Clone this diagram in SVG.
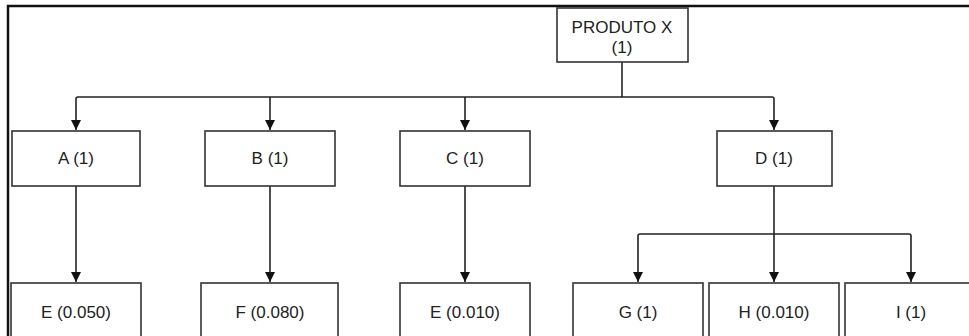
<svg xmlns="http://www.w3.org/2000/svg" width="969" height="336" viewBox="0 0 969 336">
<defs>
<style>
.box{fill:#fff;stroke:#333;stroke-width:1.6}
.t{font-family:"Liberation Sans",Arial,sans-serif;font-size:17px;fill:#222;text-anchor:middle}
.c{fill:none;stroke:#222;stroke-width:1.6}
.frame{fill:none;stroke:#111;stroke-width:2.5}
</style>
<marker id="ah" markerWidth="10" markerHeight="10" refX="10" refY="5" orient="auto" markerUnits="userSpaceOnUse" viewBox="0 0 10 10">
<path d="M0,0 L10,5 L0,10 Z" fill="#111"/>
</marker>
</defs>
<rect width="969" height="336" fill="#fff"/>
<path class="frame" d="M8,340 L8,6 L972,6"/>
<g id="connectors">
<path class="c" d="M622,62 L622,97"/>
<path class="c" d="M622,97 L78,97 Q76,97 76,99 L76,130" marker-end="url(#ah)"/>
<path class="c" d="M270,97 L270,130" marker-end="url(#ah)"/>
<path class="c" d="M465,97 L465,130" marker-end="url(#ah)"/>
<path class="c" d="M622,97 L772,97 Q774,97 774,99 L774,130" marker-end="url(#ah)"/>
<path class="c" d="M76,186 L76,282" marker-end="url(#ah)"/>
<path class="c" d="M270,186 L270,282" marker-end="url(#ah)"/>
<path class="c" d="M465,186 L465,282" marker-end="url(#ah)"/>
<path class="c" d="M774,186 L774,282" marker-end="url(#ah)"/>
<path class="c" d="M774,234 L640,234 Q638,234 638,236 L638,282" marker-end="url(#ah)"/>
<path class="c" d="M774,234 L909,234 Q911,234 911,236 L911,282" marker-end="url(#ah)"/>
</g>
<g id="produto">
<rect class="box" x="557" y="8" width="131" height="54"/>
<text class="t" x="622" y="33">PRODUTO X</text>
<text class="t" x="622" y="53">(1)</text>
</g>
<g id="A"><rect class="box" x="12" y="131" width="128" height="55"/><text class="t" x="76" y="164">A (1)</text></g>
<g id="B"><rect class="box" x="205" y="131" width="130" height="55"/><text class="t" x="270" y="164">B (1)</text></g>
<g id="C"><rect class="box" x="400" y="131" width="130" height="55"/><text class="t" x="465" y="164">C (1)</text></g>
<g id="D"><rect class="box" x="717" y="131" width="115" height="55"/><text class="t" x="774" y="164">D (1)</text></g>
<g id="E1"><rect class="box" x="11" y="283" width="130" height="65"/><text class="t" x="76" y="318">E (0.050)</text></g>
<g id="F"><rect class="box" x="201" y="283" width="137" height="65"/><text class="t" x="270" y="318">F (0.080)</text></g>
<g id="E2"><rect class="box" x="400" y="283" width="130" height="65"/><text class="t" x="465" y="318">E (0.010)</text></g>
<g id="G"><rect class="box" x="573" y="283" width="130" height="65"/><text class="t" x="638" y="318">G (1)</text></g>
<g id="H"><rect class="box" x="709" y="283" width="130" height="65"/><text class="t" x="774" y="318">H (0.010)</text></g>
<g id="I"><rect class="box" x="845" y="283" width="132" height="65"/><text class="t" x="911" y="318">I (1)</text></g>
</svg>
